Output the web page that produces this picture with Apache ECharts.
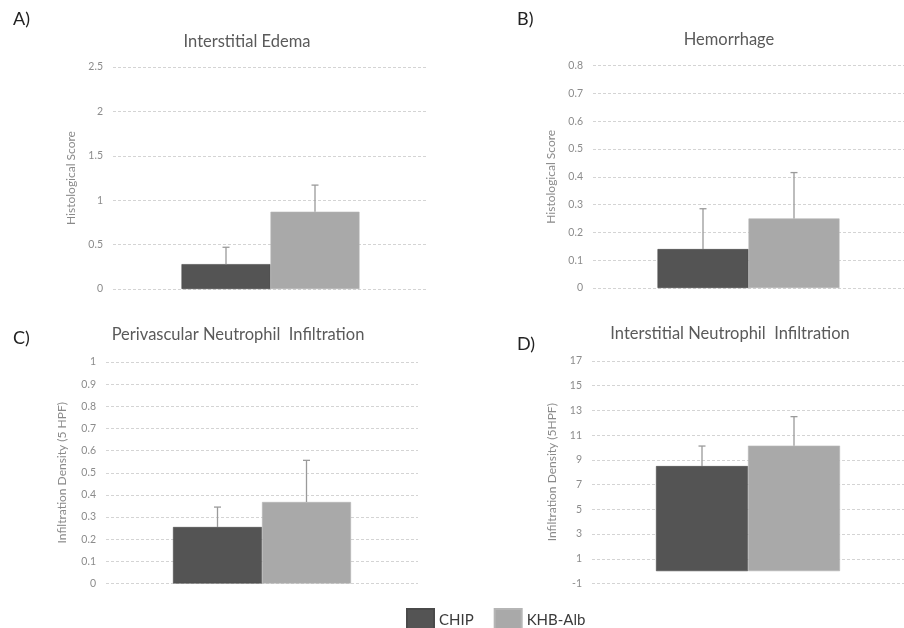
<!DOCTYPE html>
<html>
<head>
<meta charset="utf-8">
<script src="https://cdn.jsdelivr.net/npm/echarts@6/dist/echarts.min.js"></script>
<style>html,body{margin:0;padding:0;background:#fff}#c{width:904px;height:628px}</style>
</head>
<body>
<div id="c"></div>
<script>
// ---- data ----
const groups = ['CHIP', 'KHB-Alb'];
const panelLabels = ['A)', 'B)', 'C)', 'D)'];
const panelTitles = ['Interstitial Edema', 'Hemorrhage', 'Perivascular Neutrophil  Infiltration', 'Interstitial Neutrophil  Infiltration'];
const yNames = ['Histological Score', 'Histological Score', 'Infiltration Density (5 HPF)', 'Infiltration Density (5HPF)'];
const edemaMean = [0.28, 0.87];
const edemaErr = [0.19, 0.30];
const hemMean = [0.14, 0.25];
const hemErr = [0.145, 0.165];
const periMean = [0.255, 0.368];
const periErr = [0.09, 0.188];
const interMean = [8.5, 10.15];
const interErr = [1.62, 2.35];
const yMin = [0, 0, 0, -1];
const yMax = [2.5, 0.8, 1, 17];
const yStep = [0.5, 0.1, 0.1, 2];

const means = [edemaMean, hemMean, periMean, interMean];
const errs = [edemaErr, hemErr, periErr, interErr];

// ---- layout ----
const grids = [
  {left: 113, top: 67, width: 315, height: 222},
  {left: 593, top: 65.5, width: 320, height: 222.5},
  {left: 106, top: 362, width: 312, height: 221.5},
  {left: 592, top: 361, width: 322, height: 222.5}
];
const barW = [89, 91, 89, 92];
const nameGaps = [36, 36, 38, 34];
const labelPos = [[13, 21], [517, 21], [13, 340], [517, 346]];
const titlePos = [[247, 42], [729, 40], [238, 335], [730, 334]];
const colors = ['#545454', '#a9a9a9'];
const FONT = 'Lato, "Open Sans", sans-serif';

const option = {
  animation: false,
  backgroundColor: '#fff',
  grid: grids.map(g => Object.assign({containLabel: false}, g)),
  legend: {
    data: groups,
    left: 401, top: 603,
    itemWidth: 27, itemHeight: 22, itemGap: 20,
    icon: 'rect',
    textStyle: {fontSize: 15, color: '#3a3a3a', fontFamily: FONT},
    selectedMode: false
  },
  graphic: [],
  xAxis: [], yAxis: [], series: []
};

for (let p = 0; p < 4; p++) {
  option.graphic.push({
    type: 'text', left: labelPos[p][0], top: labelPos[p][1] - 11,
    style: {text: panelLabels[p], fontSize: 18, fill: '#222', fontFamily: FONT}
  });
  option.graphic.push({
    type: 'text', x: titlePos[p][0], y: titlePos[p][1],
    style: {text: panelTitles[p], fontSize: 16.5, fill: '#5a5a5a', fontFamily: FONT, align: 'center', verticalAlign: 'middle'}
  });
  option.xAxis.push({
    type: 'category', gridIndex: p, data: [''],
    axisLine: {show: false}, axisTick: {show: false}, axisLabel: {show: false}
  });
  option.yAxis.push({
    type: 'value', gridIndex: p, min: yMin[p], max: yMax[p], interval: yStep[p],
    name: yNames[p], nameLocation: 'middle', nameGap: nameGaps[p],
    nameTextStyle: {fontSize: 12, color: '#8a8a8a', fontFamily: FONT},
    axisLine: {show: false}, axisTick: {show: false},
    axisLabel: {fontSize: 10.5, color: '#8c8c8c', margin: 10, fontFamily: FONT},
    splitLine: {lineStyle: {color: '#d4d4d4', type: [3, 2], width: 1}}
  });
  for (let s = 0; s < 2; s++) {
    option.series.push({
      type: 'bar', name: groups[s], xAxisIndex: p, yAxisIndex: p,
      data: [means[p][s]], barWidth: barW[p], barGap: '0%',
      itemStyle: {color: colors[s], borderColor: s === 0 ? '#4a4a4a' : '#b5b5b5', borderWidth: 0.6}
    });
  }
  const bw = barW[p];
  option.series.push({
    type: 'custom', xAxisIndex: p, yAxisIndex: p, silent: true,
    data: [0, 1].map(s => [0, means[p][s], errs[p][s], s]),
    z: 5,
    renderItem: function (params, api) {
      const m = api.value(1), e = api.value(2), s = api.value(3);
      const base = api.coord([0, m]);
      const top = api.coord([0, m + e]);
      const x = base[0] + (s === 0 ? -bw / 2 : bw / 2);
      const st = {stroke: '#9a9a9a', lineWidth: 1.3};
      return {
        type: 'group', children: [
          {type: 'line', shape: {x1: x, y1: base[1], x2: x, y2: top[1]}, style: st},
          {type: 'line', shape: {x1: x - 3.5, y1: top[1], x2: x + 3.5, y2: top[1]}, style: st}
        ]
      };
    }
  });
}

const chart = echarts.init(document.getElementById('c'), null, {renderer: 'canvas'});
chart.setOption(option);
</script>
</body>
</html>
